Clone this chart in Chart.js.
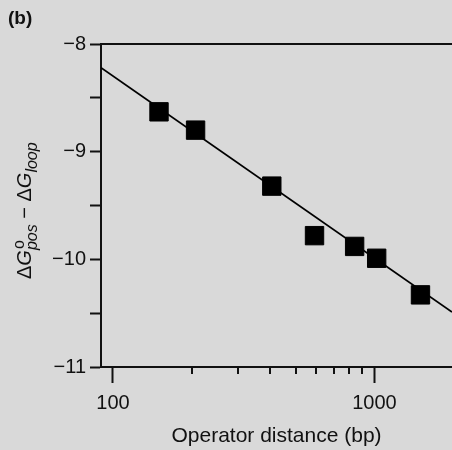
<!DOCTYPE html>
<html>
<head>
<meta charset="utf-8">
<script src="https://cdn.jsdelivr.net/npm/chart.js@4.4.1/dist/chart.umd.min.js"></script>
<style>
  html, body { margin: 0; padding: 0; background: #d9d9d9; overflow: hidden; }
  #wrap { width: 452px; height: 450px; }
</style>
</head>
<body>
<div id="wrap"><canvas id="c" width="452" height="450"></canvas></div>
<script>
// ---- data ----
const distances = [150, 207, 405, 590, 840, 1020, 1500];
const deltaG = [-8.63, -8.80, -9.32, -9.78, -9.88, -9.99, -10.33];
const fitX = [90, 1980];
const fitY = [-8.22, -10.49];
const xTickValues = [100, 200, 300, 400, 500, 600, 700, 800, 900, 1000];
const xMajorTicks = [100, 1000];
const yMin = -11, yMax = -8, yStep = 0.5;
const xTitle = 'Operator distance (bp)';
const panelLabel = '(b)';

const FONT = "'Liberation Sans', Arial, Helvetica, sans-serif";
const INK = '#111';

const decorations = {
  id: 'decorations',
  afterDraw(chart) {
    const ctx = chart.ctx;
    const a = chart.chartArea;
    const xs = chart.scales.x;
    ctx.save();
    // top frame line
    ctx.strokeStyle = INK;
    ctx.lineWidth = 2;
    ctx.beginPath();
    ctx.moveTo(a.left, a.top);
    ctx.lineTo(a.right, a.top);
    ctx.stroke();
    // minor x ticks
    xTickValues.forEach(v => {
      if (xMajorTicks.includes(v)) return;
      const px = Math.round(xs.getPixelForValue(v));
      ctx.beginPath();
      ctx.moveTo(px, a.bottom);
      ctx.lineTo(px, a.bottom + 7);
      ctx.stroke();
    });
    // panel label
    ctx.fillStyle = INK;
    ctx.font = 'bold 19px ' + FONT;
    ctx.textBaseline = 'alphabetic';
    ctx.textAlign = 'left';
    ctx.fillText(panelLabel, 8, 24);
    // y-axis label (rotated, with sub/superscripts)
    ctx.translate(31, 279);
    ctx.rotate(-Math.PI / 2);
    const main = 20, small = 16;
    const parts = [
      { t: '\u0394', f: `${main}px ${FONT}`, dy: 0 },
      { t: 'G', f: `italic ${main}px ${FONT}`, dy: 0 },
      { t: 'o', f: `${small}px ${FONT}`, dy: -7, sup: true },
      { t: 'pos', f: `italic ${small}px ${FONT}`, dy: 6 },
      { t: ' \u2212 ', f: `${main}px ${FONT}`, dy: 0 },
      { t: '\u0394', f: `${main}px ${FONT}`, dy: 0 },
      { t: 'G', f: `italic ${main}px ${FONT}`, dy: 0 },
      { t: 'loop', f: `italic ${small}px ${FONT}`, dy: 6 }
    ];
    let u = 0;
    parts.forEach(p => {
      ctx.font = p.f;
      if (p.sup) {
        ctx.fillText(p.t, u + 1, p.dy);
        return; // subscript shares this position
      }
      ctx.fillText(p.t, u, p.dy);
      u += ctx.measureText(p.t).width;
    });
    ctx.restore();
  }
};

const chart = new Chart(document.getElementById('c'), {
  type: 'scatter',
  data: {
    datasets: [
      {
        label: 'data',
        data: distances.map((d, i) => ({ x: d, y: deltaG[i] })),
        pointStyle: 'rect',
        pointRadius: 13,
        pointHoverRadius: 13,
        backgroundColor: '#000',
        borderColor: '#000',
        borderWidth: 1,
        showLine: false,
        order: 1
      },
      {
        label: 'fit',
        data: fitX.map((d, i) => ({ x: d, y: fitY[i] })),
        showLine: true,
        pointRadius: 0,
        borderColor: '#000',
        borderWidth: 1.8,
        fill: false,
        order: 2
      }
    ]
  },
  options: {
    responsive: false,
    animation: false,
    devicePixelRatio: 1,
    layout: { autoPadding: false, padding: { top: 44, right: 0, bottom: 0, left: 0 } },
    plugins: { legend: { display: false }, tooltip: { enabled: false } },
    scales: {
      x: {
        type: 'logarithmic',
        min: fitX[0],
        max: fitX[1],
        afterBuildTicks(scale) {
          scale.ticks = xTickValues.map(v => ({ value: v, major: xMajorTicks.includes(v) }));
        },
        afterFit(scale) { scale.height = 83; },
        grid: {
          drawOnChartArea: false,
          tickLength: 16,
          tickWidth: 2,
          tickColor: ctx => (ctx.tick && xMajorTicks.includes(ctx.tick.value)) ? INK : 'rgba(0,0,0,0)'
        },
        border: { display: true, color: INK, width: 2 },
        ticks: {
          autoSkip: false,
          maxRotation: 0,
          padding: 8,
          color: INK,
          font: { family: FONT, size: 20 },
          callback: v => xMajorTicks.includes(v) ? String(v) : ''
        },
        title: {
          display: true,
          text: xTitle,
          color: INK,
          font: { family: FONT, size: 21 },
          padding: { top: 0, bottom: 1 }
        }
      },
      y: {
        min: yMin,
        max: yMax,
        afterFit(scale) { scale.width = 101; },
        grid: { drawOnChartArea: false, tickLength: 11, tickWidth: 2, tickColor: INK },
        border: { display: true, color: INK, width: 2 },
        ticks: {
          stepSize: yStep,
          padding: 4,
          color: INK,
          font: { family: FONT, size: 20 },
          callback: v => Number.isInteger(v) ? (v < 0 ? '\u2212' + Math.abs(v) : String(v)) : ''
        }
      }
    }
  },
  plugins: [decorations]
});
</script>
</body>
</html>
